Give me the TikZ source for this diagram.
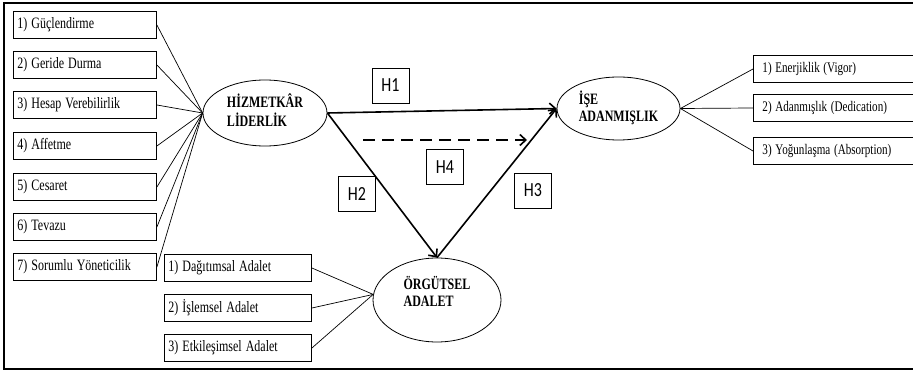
\documentclass[tikz,border=0pt]{standalone}
\usepackage{fontspec}
\usepackage{graphicx}
\setmainfont{Liberation Serif}
\newfontfamily\hfont{Carlito}
\usetikzlibrary{shapes.geometric,arrows.meta}
% tall lettering used throughout the figure
\newcommand\tall[1]{\scalebox{1}[1.32]{#1}}
\newcommand\twolines[2]{\tall{\renewcommand\arraystretch{1}\begin{tabular}{@{}l@{}}#1\\#2\end{tabular}}}
\begin{document}
\begin{tikzpicture}[x=1pt,y=-1pt,
  item/.style={draw,line width=0.9pt,minimum height=27pt,inner xsep=4pt,
    align=left,anchor=west,text width=#1,font=\fontsize{12}{14}\selectfont},
  construct/.style={draw,ellipse,line width=0.8pt,inner sep=0pt,
    font=\fontsize{12}{13}\selectfont\bfseries},
  link/.style={line width=0.7pt},
  hyp/.style={line width=1.6pt,-{Straight Barb[length=6pt,width=11pt,line width=1.6pt]}},
  hlabel/.style={draw,line width=0.9pt,minimum width=37pt,minimum height=35pt,
    inner sep=0pt,font=\hfont\fontsize{16}{16}\selectfont}
]
\useasboundingbox (0,0) rectangle (913,371);
\clip (0,0) rectangle (913,371);

% outer frame
\draw[line width=2pt] (4,3) rectangle (940,369);

% constructs
\node[construct,minimum width=124pt,minimum height=66pt] (hiz) at (265,113) {\twolines{HİZMETKÂR}{LİDERLİK}};
\node[construct,minimum width=123pt,minimum height=63pt] (ise) at (618.5,108.5) {\twolines{İŞE}{ADANMIŞLIK}};
\node[construct,minimum width=128pt,minimum height=84pt] (org) at (437,300)
  {\raisebox{6pt}[\height][\depth]{\twolines{ÖRGÜTSEL}{ADALET}}};

% servant leadership dimensions
\node[item=135pt] (l1) at (13,25)  {\tall{1) Güçlendirme}};
\node[item=135pt] (l2) at (13,65)  {\tall{2) Geride Durma}};
\node[item=135pt] (l3) at (13,105) {\tall{3) Hesap Verebilirlik}};
\node[item=135pt] (l4) at (13,146) {\tall{4) Affetme}};
\node[item=135pt] (l5) at (13,187) {\tall{5) Cesaret}};
\node[item=135pt] (l6) at (13,227) {\tall{6) Tevazu}};
\node[item=135pt] (l7) at (13,267) {\tall{7) Sorumlu Yöneticilik}};
\foreach \i in {1,...,7} \draw[link] (l\i.east) -- (hiz.west);

% organisational justice dimensions
\node[item=139pt] (o1) at (164,268) {\tall{1) Dağıtımsal Adalet}};
\node[item=139pt] (o2) at (164,308) {\tall{2) İşlemsel Adalet}};
\node[item=139pt] (o3) at (164,348) {\tall{3) Etkileşimsel Adalet}};
\coordinate (oin) at (org.175);
\foreach \i in {1,2,3} \draw[link] (o\i.east) -- (oin);

% work engagement dimensions
\tikzset{engage/.style={item=200pt,inner xsep=9pt,font=\fontsize{11.1}{13}\selectfont}}
\node[engage] (e1) at (753,69)  {\tall{1) Enerjiklik (Vigor)}};
\node[engage] (e2) at (753,108) {\tall{2) Adanmışlık (Dedication)}};
\node[engage] (e3) at (753,151) {\tall{3) Yoğunlaşma (Absorption)}};
\foreach \i in {1,2,3} \draw[link] (ise.east) -- (e\i.west);

% hypotheses
\draw[hyp] (hiz.east) -- (ise.west);
\draw[hyp] (hiz.east) -- (org.north);
\draw[hyp] (org.north) -- (ise.west);
\coordinate (m1) at (363,140);
\coordinate (m2) at (527,140);
\draw[hyp,dash pattern=on 12pt off 7pt] (m1) -- (m2);

\node[hlabel] (h1) at (390.5,85.5) {\scalebox{1}[1.25]{H1}};
\node[hlabel] (h2) at (357,194) {\scalebox{1}[1.25]{H2}};
\node[hlabel] (h3) at (533,190.5) {\scalebox{1}[1.25]{H3}};
\node[hlabel] (h4) at (445,167) {\scalebox{1}[1.25]{H4}};
\end{tikzpicture}
\end{document}
